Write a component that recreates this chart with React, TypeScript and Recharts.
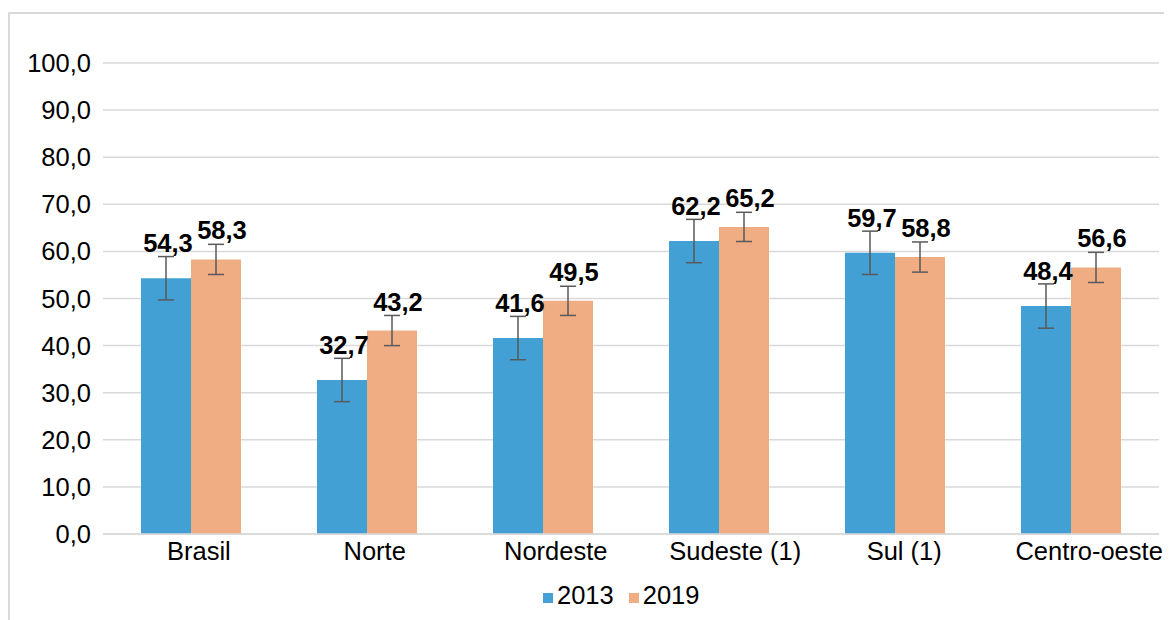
import React from "react";
import {
  Bar,
  BarChart,
  CartesianGrid,
  ErrorBar,
  LabelList,
  Legend,
  XAxis,
  YAxis,
} from "recharts";

const categories = ["Brasil", "Norte", "Nordeste", "Sudeste (1)", "Sul (1)", "Centro-oeste"];
const values2013 = [54.3, 32.7, 41.6, 62.2, 59.7, 48.4];
const values2019 = [58.3, 43.2, 49.5, 65.2, 58.8, 56.6];
const err2013 = [4.6, 4.6, 4.6, 4.6, 4.6, 4.7];
const err2019 = [3.2, 3.2, 3.1, 3.1, 3.2, 3.2];
const yTicks = [0, 10, 20, 30, 40, 50, 60, 70, 80, 90, 100];

const BLUE = "#42A0D5";
const ORANGE = "#F0AD84";
const FONT = "'Liberation Sans', Arial, sans-serif";
const FS = 25.5;

const data = categories.map((name, i) => ({
  name,
  v2013: values2013[i],
  v2019: values2019[i],
  e2013: err2013[i],
  e2019: err2019[i],
}));

const fmt = (v: number) => v.toFixed(1).replace(".", ",");

// the original's category labels sit a bit right of centre, more so for long ones
let ctx: CanvasRenderingContext2D | null = null;
function textWidth(s: string) {
  if (!ctx) ctx = document.createElement("canvas").getContext("2d");
  if (!ctx) return 0;
  ctx.font = `${FS}px ${FONT}`;
  return ctx.measureText(s).width;
}

function CategoryTick(props: any) {
  const { x, y, payload } = props;
  const shift = textWidth(payload.value) * 0.123;
  return (
    <text
      x={x + shift}
      y={y}
      dy="0.71em"
      textAnchor="middle"
      fontSize={FS}
      fontFamily={FONT}
      fill="#000"
    >
      {payload.value}
    </text>
  );
}

function LegendBox() {
  const items = [
    { label: "2013", color: BLUE },
    { label: "2019", color: ORANGE },
  ];
  return (
    <div style={{ display: "flex", alignItems: "center", fontFamily: FONT, fontSize: FS, color: "#000" }}>
      {items.map((it, i) => (
        <div key={it.label} style={{ display: "flex", alignItems: "center", marginLeft: i ? 15 : 0 }}>
          <span style={{ width: 10, height: 10, background: it.color, display: "inline-block", marginRight: 4, marginTop: 5 }} />
          <span>{it.label}</span>
        </div>
      ))}
    </div>
  );
}

const labelStyle = { fontSize: FS, fontWeight: "bold", fill: "#000", fontFamily: FONT };

export default function App() {
  return (
    <div style={{ position: "relative", width: 1164, height: 612, overflow: "hidden", background: "#fff" }}>
      <div
        style={{
          position: "absolute",
          left: 0,
          top: 4,
          width: 1300,
          height: 800,
          border: "2px solid #d9d9d9",
          boxSizing: "border-box",
        }}
      />
      <div style={{ position: "absolute", left: 0, top: 0 }}>
        <BarChart
          width={1164}
          height={612}
          data={data}
          margin={{ top: 55, right: 13, left: 0, bottom: 46 }}
          barGap={0}
          barSize={50}
        >
          <CartesianGrid vertical={false} stroke="#d9d9d9" strokeWidth={1.5} />
          <XAxis
            dataKey="name"
            tickLine={false}
            axisLine={{ stroke: "#d9d9d9", strokeWidth: 1.5 }}
            tick={<CategoryTick />}
            interval={0}
            height={40}
          />
          <YAxis
            domain={[0, 100]}
            ticks={yTicks}
            tickFormatter={fmt}
            axisLine={false}
            tickLine={false}
            tickMargin={6}
            width={95}
            tick={{ fontSize: FS, fill: "#000", fontFamily: FONT }}
          />
          <Legend
            verticalAlign="middle"
            align="center"
            content={() => <LegendBox />}
            wrapperStyle={{ left: 535, top: 573, width: "auto" }}
          />
          <Bar dataKey="v2013" name="2013" fill={BLUE} isAnimationActive={false}>
            <ErrorBar dataKey="e2013" width={8} stroke="#595959" strokeWidth={1.5} />
            <LabelList
              dataKey="v2013"
              position="top"
              offset={26}
              dx={2}
              formatter={(v: number) => fmt(v)}
              style={labelStyle}
            />
          </Bar>
          <Bar dataKey="v2019" name="2019" fill={ORANGE} isAnimationActive={false}>
            <ErrorBar dataKey="e2019" width={8} stroke="#595959" strokeWidth={1.5} />
            <LabelList
              dataKey="v2019"
              position="top"
              offset={20}
              dx={6}
              formatter={(v: number) => fmt(v)}
              style={labelStyle}
            />
          </Bar>
        </BarChart>
      </div>
    </div>
  );
}
